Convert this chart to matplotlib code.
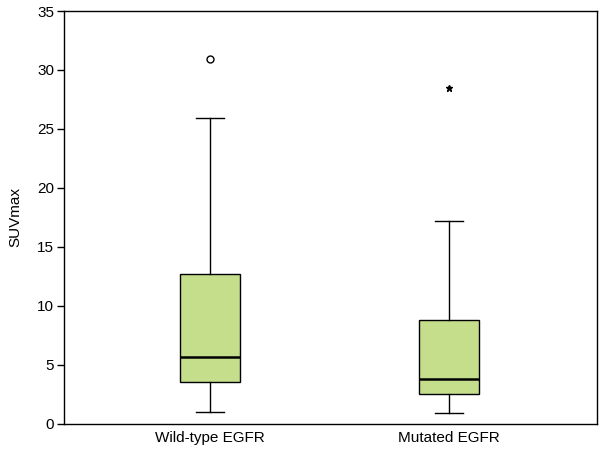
import matplotlib
matplotlib.use("Agg")
import matplotlib.pyplot as plt

plt.rcParams['font.family'] = ['Liberation Sans', 'DejaVu Sans']

categories = ["Wild-type EGFR", "Mutated EGFR"]
whislo = [1.0, 0.9]
q1 = [3.6, 2.5]
med = [5.7, 3.8]
q3 = [12.7, 8.8]
whishi = [25.9, 17.2]
outliers = [[30.9], []]
extremes = [[], [28.5]]
yticks = [0, 5, 10, 15, 20, 25, 30, 35]

fig = plt.figure(figsize=(6.02, 4.49), dpi=100)
ax = fig.add_axes([0.1063, 0.0557, 0.8854, 0.9198])

stats = []
for i, c in enumerate(categories):
    stats.append(dict(label=c, whislo=whislo[i], q1=q1[i], med=med[i],
                      q3=q3[i], whishi=whishi[i], fliers=outliers[i]))

positions = [1, 2]
ax.bxp(stats, positions=positions, widths=0.25, capwidths=0.12,
       patch_artist=True, showfliers=True,
       boxprops=dict(facecolor='#c4de8c', edgecolor='black', linewidth=1.0),
       medianprops=dict(color='black', linewidth=1.8),
       whiskerprops=dict(color='black', linewidth=1.0),
       capprops=dict(color='black', linewidth=1.0),
       flierprops=dict(marker='o', markersize=5, markerfacecolor='white',
                       markeredgecolor='black', markeredgewidth=1.0))

for p, ex in zip(positions, extremes):
    if ex:
        ax.plot([p] * len(ex), ex, linestyle='none', marker='*', markersize=5,
                color='black')

ax.set_xlim(0.388, 2.62)
ax.set_ylim(0, 35)
ax.set_yticks(yticks)
ax.set_xticks(positions)
ax.set_xticklabels(categories)
ax.tick_params(axis='x', length=0, labelsize=11, pad=5)
ax.tick_params(axis='y', length=5, width=1, labelsize=11, pad=2)
ax.set_ylabel("SUVmax", fontsize=11, labelpad=11)
for s in ax.spines.values():
    s.set_linewidth(1.0)

fig.savefig("out.png", dpi=100)
